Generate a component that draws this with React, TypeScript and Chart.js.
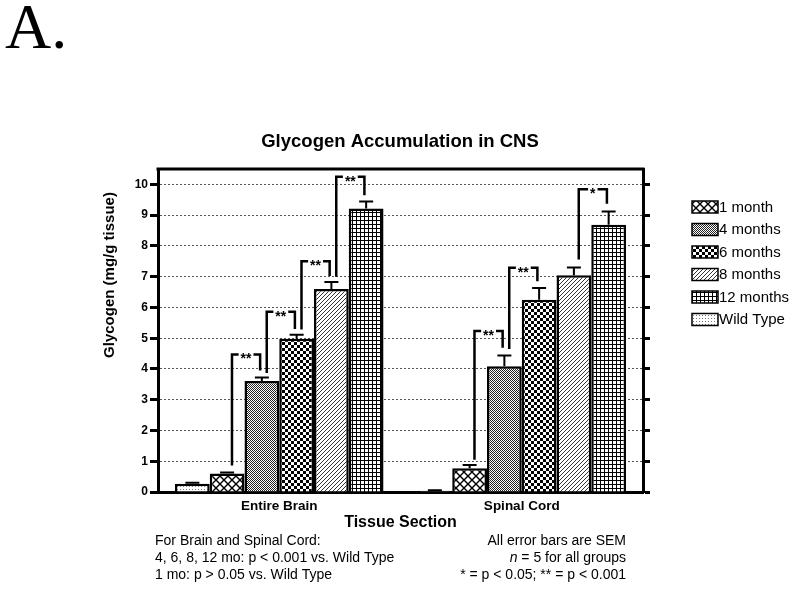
import React, { useEffect, useRef } from 'react';
import { Chart, registerables } from 'chart.js';

Chart.register(...registerables);

// ---------- data ----------
const categories = ['Entire Brain', 'Spinal Cord'];
const seriesNames = ['Wild Type', '1 month', '4 months', '6 months', '8 months', '12 months'];
const wildType = [0.27, 0.04];
const month1 = [0.6, 0.77];
const month4 = [3.61, 4.09];
const month6 = [4.98, 6.25];
const month8 = [6.6, 7.05];
const month12 = [9.22, 8.69];
const semWildType = [0.03, 0.02];
const semMonth1 = [0.03, 0.11];
const semMonth4 = [0.11, 0.35];
const semMonth6 = [0.13, 0.38];
const semMonth8 = [0.23, 0.25];
const semMonth12 = [0.22, 0.43];
const legendOrder = [1, 2, 3, 4, 5, 0];
const yTickValues = [0, 1, 2, 3, 4, 5, 6, 7, 8, 9, 10];
// [category, fromSeries, toSeries, leftFoot, top, rightFoot, label]
const brackets: [number, number, number, number, number, number, string][] = [
  [0, 1, 2, 0.86, 4.47, 3.95, '**'],
  [0, 2, 3, 3.87, 5.86, 5.3, '**'],
  [0, 3, 4, 5.28, 7.5, 7.02, '**'],
  [0, 4, 5, 7.0, 10.25, 9.65, '**'],
  [1, 1, 2, 1.05, 5.23, 4.69, '**'],
  [1, 2, 3, 4.65, 7.29, 6.85, '**'],
  [1, 4, 5, 7.56, 9.84, 9.37, '*'],
];
const chartTitle = 'Glycogen Accumulation in CNS';
const yTitle = 'Glycogen (mg/g tissue)';
const xTitle = 'Tissue Section';
const panelLabel = 'A.';
const footLeft = ['For Brain and Spinal Cord:', '4, 6, 8, 12 mo: p < 0.001 vs. Wild Type', '1 mo: p > 0.05 vs. Wild Type'];
const footRight = ['All error bars are SEM', 'n = 5 for all groups', '* = p < 0.05; ** = p < 0.001'];
const patternKinds = ['stipple', 'diamond', 'fine', 'checker', 'diagonal', 'grid'];

function makePattern(kind: string): CanvasPattern | string {
  const c = document.createElement('canvas');
  let s = 8;
  if (kind === 'stipple') s = 3;
  if (kind === 'fine') s = 2;
  if (kind === 'checker') s = 6;
  if (kind === 'diagonal') s = 4;
  if (kind === 'grid') s = 4;
  c.width = s;
  c.height = s;
  const ctx = c.getContext('2d')!;
  ctx.fillStyle = '#fff';
  ctx.fillRect(0, 0, s, s);
  ctx.fillStyle = '#000';
  ctx.strokeStyle = '#000';
  if (kind === 'stipple') {
    ctx.fillStyle = '#777';
    ctx.fillRect(0, 0, 1, 1);
  } else if (kind === 'diamond') {
    ctx.lineWidth = 1.4;
    ctx.beginPath();
    ctx.moveTo(-1, -1); ctx.lineTo(s + 1, s + 1);
    ctx.moveTo(s + 1, -1); ctx.lineTo(-1, s + 1);
    ctx.stroke();
  } else if (kind === 'fine') {
    ctx.fillStyle = '#222';
    ctx.fillRect(0, 0, 1, 1);
    ctx.fillRect(1, 1, 1, 1);
  } else if (kind === 'checker') {
    ctx.fillRect(0, 0, 3, 3);
    ctx.fillRect(3, 3, 3, 3);
  } else if (kind === 'diagonal') {
    ctx.strokeStyle = '#333';
    ctx.lineWidth = 1;
    ctx.beginPath();
    ctx.moveTo(0, s); ctx.lineTo(s, 0);
    ctx.moveTo(-1, 1); ctx.lineTo(1, -1);
    ctx.moveTo(s - 1, s + 1); ctx.lineTo(s + 1, s - 1);
    ctx.stroke();
  } else if (kind === 'grid') {
    ctx.fillRect(0, 0, s, 1);
    ctx.fillRect(0, 0, 1, s);
  }
  return ctx.createPattern(c, 'repeat') || '#fff';
}

export default function App() {
  const ref = useRef<HTMLCanvasElement>(null);

  useEffect(() => {
    const canvas = ref.current!;
    const seriesValues = [wildType, month1, month4, month6, month8, month12];
    const seriesSem = [semWildType, semMonth1, semMonth4, semMonth6, semMonth8, semMonth12];
    const patterns = patternKinds.map(makePattern);

    const annot = {
      id: 'annot',
      afterDatasetsDraw(chart: any) {
        const ctx = chart.ctx as CanvasRenderingContext2D;
        const ys = chart.scales.y;
        const area = chart.chartArea;
        ctx.save();
        // error bars
        ctx.strokeStyle = '#000';
        ctx.lineWidth = 2;
        seriesValues.forEach((vals, di) => {
          const meta = chart.getDatasetMeta(di);
          vals.forEach((v, ci) => {
            const el = meta.data[ci];
            const yTop = ys.getPixelForValue(v + seriesSem[di][ci]);
            const yBar = ys.getPixelForValue(v);
            ctx.beginPath();
            ctx.moveTo(el.x, yBar);
            ctx.lineTo(el.x, yTop);
            ctx.moveTo(el.x - 7, yTop);
            ctx.lineTo(el.x + 7, yTop);
            ctx.stroke();
          });
        });
        // brackets
        ctx.lineWidth = 2.5;
        ctx.lineCap = 'butt';
        ctx.lineJoin = 'miter';
        brackets.forEach(([ci, from, to, lf, top, rf, label]) => {
          const a = chart.getDatasetMeta(from).data[ci];
          const b = chart.getDatasetMeta(to).data[ci];
          const w = a.width;
          const lx = a.x + 0.14 * w;
          const rx = b.x - 0.05 * w;
          const ty = ys.getPixelForValue(top);
          ctx.beginPath();
          ctx.moveTo(lx, ys.getPixelForValue(lf));
          ctx.lineTo(lx, ty);
          ctx.lineTo(rx, ty);
          ctx.lineTo(rx, ys.getPixelForValue(rf));
          ctx.stroke();
          ctx.font = 'bold 14px Arial, "Liberation Sans", sans-serif';
          const tw = ctx.measureText(label).width;
          const mx = (lx + rx) / 2;
          ctx.fillStyle = '#fff';
          ctx.fillRect(mx - tw / 2 - 2, ty - 3, tw + 4, 6);
          ctx.fillStyle = '#000';
          ctx.textAlign = 'center';
          ctx.textBaseline = 'alphabetic';
          ctx.fillText(label, mx, ty + 9);
        });
        // top border
        ctx.lineWidth = 3;
        ctx.beginPath();
        ctx.moveTo(area.left - 1.5, area.top);
        ctx.lineTo(area.right + 1.5, area.top);
        ctx.stroke();
        ctx.restore();
      },
      afterDraw(chart: any) {
        const ctx = chart.ctx as CanvasRenderingContext2D;
        ctx.save();
        ctx.fillStyle = '#000';
        // panel label
        ctx.font = '64px "Liberation Serif", "Times New Roman", serif';
        ctx.textAlign = 'left';
        ctx.textBaseline = 'alphabetic';
        ctx.fillText(panelLabel, 5, 48);
        // y title
        ctx.save();
        ctx.translate(110, 275);
        ctx.rotate(-Math.PI / 2);
        ctx.font = 'bold 15px Arial, "Liberation Sans", sans-serif';
        ctx.textAlign = 'center';
        ctx.textBaseline = 'middle';
        ctx.fillText(yTitle, 0, 0);
        ctx.restore();
        // legend
        legendOrder.forEach((di, i) => {
          const yc = 207 + i * 22.5;
          ctx.fillStyle = patterns[di] as any;
          ctx.fillRect(692, yc - 6, 26, 12);
          ctx.strokeStyle = '#000';
          ctx.lineWidth = 1.5;
          ctx.strokeRect(692, yc - 6, 26, 12);
          ctx.fillStyle = '#000';
          ctx.font = '15px Arial, "Liberation Sans", sans-serif';
          ctx.textAlign = 'left';
          ctx.textBaseline = 'middle';
          ctx.fillText(seriesNames[di], 719, yc + 0.5);
        });
        // footnotes
        const lineY = [541.5, 558, 575];
        ctx.font = '14px Arial, "Liberation Sans", sans-serif';
        ctx.textBaseline = 'middle';
        footLeft.forEach((t, i) => {
          ctx.textAlign = 'left';
          ctx.fillText(t, 155, lineY[i]);
        });
        footRight.forEach((t, i) => {
          const rightX = 626;
          if (t.startsWith('n ')) {
            const rest = t.slice(1);
            ctx.font = '14px Arial, "Liberation Sans", sans-serif';
            const rw = ctx.measureText(rest).width;
            ctx.textAlign = 'right';
            ctx.fillText(rest, rightX, lineY[i]);
            ctx.font = 'italic 14px Arial, "Liberation Sans", sans-serif';
            ctx.fillText('n', rightX - rw, lineY[i]);
            ctx.font = '14px Arial, "Liberation Sans", sans-serif';
          } else {
            ctx.textAlign = 'right';
            ctx.fillText(t, rightX, lineY[i]);
          }
        });
        ctx.restore();
      },
    };

    const tickFont = { family: 'Arial, "Liberation Sans", sans-serif', size: 12, weight: 'bold' as const };

    const chart = new Chart(canvas, {
      type: 'bar',
      data: {
        labels: categories,
        datasets: seriesNames.map((name, i) => ({
          label: name,
          data: seriesValues[i],
          backgroundColor: patterns[i] as any,
          borderColor: '#000',
          borderWidth: 2.5,
          categoryPercentage: 0.86,
          barPercentage: 1,
          yAxisID: 'y',
        })),
      },
      options: {
        responsive: false,
        animation: false,
        devicePixelRatio: 1,
        layout: { padding: { top: 131, bottom: 59, left: 0, right: 0 } },
        plugins: {
          legend: { display: false },
          tooltip: { enabled: false },
          title: {
            display: true,
            text: chartTitle,
            color: '#000',
            font: { family: 'Arial, "Liberation Sans", sans-serif', size: 18.5, weight: 'bold' },
            padding: { top: 0, bottom: 15.8 },
          },
        },
        scales: {
          x: {
            type: 'category',
            offset: true,
            grid: { display: false, drawTicks: false },
            border: { display: true, color: '#000', width: 3 },
            ticks: {
              color: '#000',
              padding: 6,
              font: { family: 'Arial, "Liberation Sans", sans-serif', size: 13.5, weight: 'bold' },
            },
            title: {
              display: true,
              text: xTitle,
              color: '#000',
              font: { family: 'Arial, "Liberation Sans", sans-serif', size: 16, weight: 'bold' },
              padding: { top: 0, bottom: 0 },
            },
            afterFit: (s: any) => { s.height = 40; },
          } as any,
          y: {
            position: 'left',
            min: 0,
            max: 10.5,
            afterBuildTicks: (s: any) => { s.ticks = yTickValues.map((v) => ({ value: v })); },
            ticks: { stepSize: 1, color: '#000', padding: 2, font: tickFont },
            grid: { color: '#555', lineWidth: 1, tickColor: '#000', tickWidth: 3, tickLength: 8, drawTicks: true },
            border: { display: true, color: '#000', width: 3, dash: [2, 2] },
            afterFit: (s: any) => { s.width = 158; },
          } as any,
          y2: {
            position: 'right',
            min: 0,
            max: 10.5,
            afterBuildTicks: (s: any) => { s.ticks = yTickValues.map((v) => ({ value: v })); },
            ticks: { display: false, stepSize: 1 },
            grid: { drawOnChartArea: false, tickColor: '#000', tickWidth: 3, tickLength: 7, drawTicks: true },
            border: { display: true, color: '#000', width: 3 },
            afterFit: (s: any) => { s.width = 157; },
          } as any,
        },
      },
      plugins: [annot],
    });

    return () => chart.destroy();
  }, []);

  return (
    <div style={{ position: 'absolute', left: 0, top: 0, width: 800, height: 591, background: '#fff' }}>
      <canvas ref={ref} width={800} height={591} style={{ display: 'block', width: 800, height: 591 }} />
    </div>
  );
}
